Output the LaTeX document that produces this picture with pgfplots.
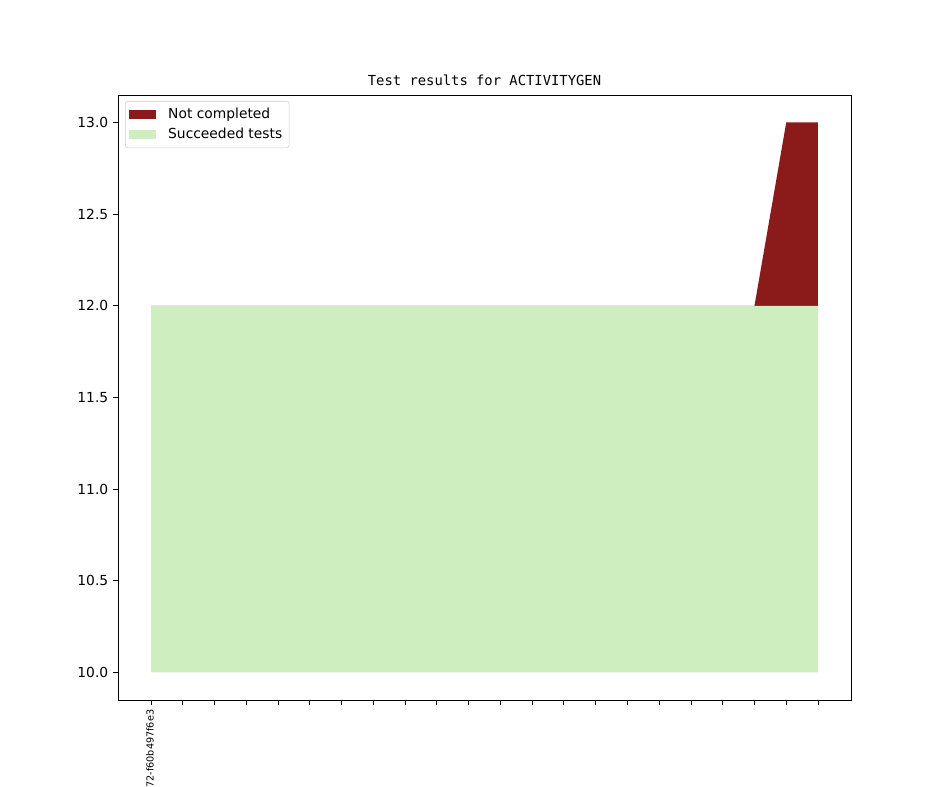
\documentclass[border=0pt]{standalone}
\usepackage{fontspec}
\setmainfont{DejaVu Sans}
\setmonofont{DejaVu Sans Mono}
\usepackage{pgfplots}
\pgfplotsset{compat=1.18}
\usepgfplotslibrary{fillbetween}
\definecolor{ncred}{RGB}{139,27,27}
\definecolor{succgreen}{RGB}{207,238,191}
\begin{document}
\begin{tikzpicture}
\begin{axis}[
  at={(1.18in,0.87in)}, anchor=south west,
  scale only axis, width=7.33in, height=6.05in,
  xmin=-1.04, xmax=22.04, ymin=9.85, ymax=13.15,
  axis line style={line width=0.6pt},
  tick align=outside, tick pos=left,
  major tick length=0.049in,
  every tick/.style={black, line width=0.6pt},
  xtick={0,...,21},
  xticklabels={{v1\_19\_0+0172-f60b497f6e3}},
  xticklabel style={rotate=90, anchor=east, font=\fontsize{7}{8}\selectfont},
  ytick={10,10.5,11,11.5,12,12.5,13},
  yticklabel style={font=\fontsize{10}{12}\selectfont},
  /pgf/number format/assume math mode=true,
  /pgf/number format/.cd, fixed, fixed zerofill, precision=1, /pgfplots/.cd,
  title={\texttt{Test results for ACTIVITYGEN}},
  title style={at={(0.5,1)}, anchor=south, yshift=-2.5pt, font=\fontsize{10}{12}\selectfont},
  legend style={at={(0,1)}, anchor=north west, xshift=0.07in, yshift=-0.06in,
    draw=black!20, rounded corners=2pt, fill=white, fill opacity=0.8, text opacity=1,
    font=\fontsize{10}{12}\selectfont, row sep=1.5pt, inner xsep=3pt, inner ysep=3pt},
  legend cell align=left,
]
\addplot[name path=base, draw=none, forget plot] coordinates {
(0,10)(1,10)(2,10)(3,10)(4,10)(5,10)(6,10)(7,10)(8,10)(9,10)(10,10)
(11,10)(12,10)(13,10)(14,10)(15,10)(16,10)(17,10)(18,10)(19,10)(20,10)(21,10)};
\addplot[name path=succ, draw=none, forget plot] coordinates {
(0,12)(1,12)(2,12)(3,12)(4,12)(5,12)(6,12)(7,12)(8,12)(9,12)(10,12)
(11,12)(12,12)(13,12)(14,12)(15,12)(16,12)(17,12)(18,12)(19,12)(20,12)(21,12)};
\addplot[name path=nc, draw=none, forget plot] coordinates {
(0,12)(1,12)(2,12)(3,12)(4,12)(5,12)(6,12)(7,12)(8,12)(9,12)(10,12)
(11,12)(12,12)(13,12)(14,12)(15,12)(16,12)(17,12)(18,12)(19,12)(20,13)(21,13)};
\addplot[fill=ncred, draw=none, forget plot] fill between[of=nc and succ];
\addplot[fill=succgreen, draw=none, forget plot] fill between[of=succ and base];
\addlegendimage{draw=none, legend image code/.code={
    \path[draw=none, fill=none] (0in,0) -- (0.36in,0);
    \fill[ncred, draw=none, sharp corners, fill opacity=1] (0in,-0.046in) rectangle (0.27in,0.046in);}}
\addlegendentry{Not completed}
\addlegendimage{draw=none, legend image code/.code={
    \path[draw=none, fill=none] (0in,0) -- (0.36in,0);
    \fill[succgreen, draw=none, sharp corners, fill opacity=1] (0in,-0.046in) rectangle (0.27in,0.046in);}}
\addlegendentry{Succeeded tests}
\end{axis}
\pgfresetboundingbox
\path (0,0) rectangle (9.44in,7.87in);
\end{tikzpicture}
\end{document}
